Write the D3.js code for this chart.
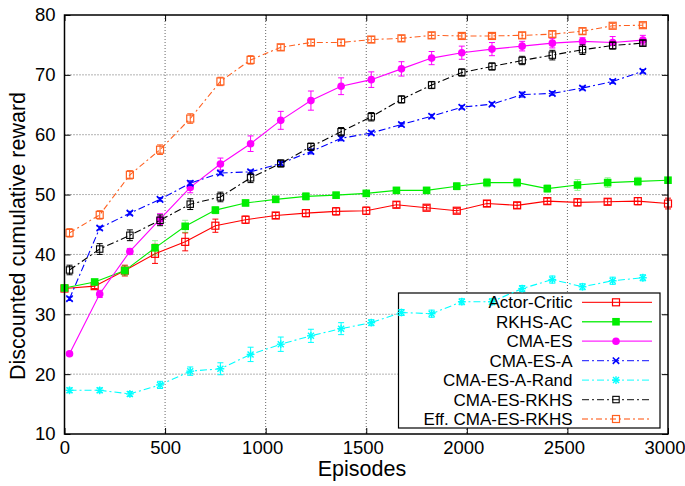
<!DOCTYPE html>
<html><head><meta charset="utf-8">
<script src="https://cdn.jsdelivr.net/npm/d3@7"></script>
<style>body{margin:0;background:#fff}svg{display:block}</style>
</head><body>
<svg id="c" width="685" height="486"></svg>
<script>
// ---------- data ----------
const xTicks = [0, 500, 1000, 1500, 2000, 2500, 3000];
const yTicks = [10, 20, 30, 40, 50, 60, 70, 80];
const epAC = [0,150,300,450,600,750,900,1050,1200,1350,1500,1650,1800,1950,2100,2250,2400,2550,2700,2850,3000];
const epES = [25,175,325,475,625,775,925,1075,1225,1375,1525,1675,1825,1975,2125,2275,2425,2575,2725,2875];

const actorCritic = [34.3,34.7,37.3,40.1,42.1,44.8,45.8,46.5,46.9,47.2,47.3,48.3,47.8,47.3,48.5,48.2,48.9,48.7,48.8,48.9,48.5];
const actorCriticErr = [0.3,0.4,0.9,1.6,1.5,1.1,0.6,0.5,0.6,0.6,0.6,0.5,0.4,0.4,0.5,0.5,0.5,0.6,0.5,0.6,0.9];
const rkhsAC = [34.4,35.4,37.3,41.1,44.7,47.4,48.6,49.2,49.7,49.9,50.2,50.7,50.7,51.4,52.0,52.0,51.0,51.6,52.0,52.2,52.4];
const rkhsACErr = [0.3,0.4,0.8,1.2,1.0,0.6,0.5,0.5,0.6,0.5,0.5,0.5,0.5,0.6,0.7,0.7,0.6,0.9,0.8,0.7,0.4];
const cmaES = [23.4,33.4,40.5,45.9,51.2,55.1,58.5,62.4,65.7,68.1,69.2,71.0,72.8,73.7,74.3,74.8,75.3,75.6,75.4,75.8];
const cmaESErr = [0.3,0.6,0.5,0.9,0.9,1.0,1.3,1.5,1.6,1.4,1.3,1.2,1.1,1.1,1.1,0.8,0.8,0.6,1.0,0.8];
const cmaESA = [32.6,44.4,46.9,49.2,51.9,53.6,53.8,55.2,57.2,59.4,60.3,61.7,63.1,64.6,65.1,66.7,66.9,67.8,68.9,70.6];
const cmaESAErr = [0.3,0.3,0.3,0.3,0.4,0.3,0.3,0.3,0.4,0.4,0.3,0.3,0.3,0.3,0.3,0.4,0.3,0.3,0.3,0.3];
const cmaESARand = [17.3,17.3,16.7,18.2,20.5,20.9,23.3,25.0,26.4,27.6,28.6,30.3,30.1,32.1,32.1,34.3,35.8,34.6,35.6,36.1];
const cmaESARandErr = [0.4,0.4,0.4,0.6,0.7,1.0,1.2,1.2,1.1,1.0,0.5,0.5,0.6,0.5,0.5,0.5,0.6,0.5,0.6,0.5];
const cmaESRKHS = [37.4,40.9,43.2,45.7,48.4,49.6,52.8,55.2,58.0,60.5,63.0,65.9,68.3,70.4,71.4,72.4,73.3,74.2,74.9,75.3];
const cmaESRKHSErr = [0.8,0.9,0.9,0.9,0.9,0.8,0.8,0.6,0.6,0.7,0.7,0.6,0.6,0.6,0.6,0.7,0.8,0.8,0.6,0.5];
const effCmaESRKHS = [43.6,46.6,53.3,57.5,62.7,68.9,72.5,74.6,75.4,75.4,75.9,76.1,76.6,76.5,76.5,76.6,76.8,77.3,78.2,78.3];
const effCmaESRKHSErr = [0.7,0.7,0.7,0.8,0.8,0.7,0.7,0.5,0.5,0.5,0.5,0.5,0.5,0.4,0.4,0.5,0.5,0.5,0.4,0.4];

const seriesNames = ["Actor-Critic","RKHS-AC","CMA-ES","CMA-ES-A","CMA-ES-A-Rand","CMA-ES-RKHS","Eff. CMA-ES-RKHS"];

// ---------- styles ----------
const series = [
  {name:seriesNames[0], x:epAC, y:actorCritic, e:actorCriticErr, color:"#ff0000", dash:null, marker:"sqOpen"},
  {name:seriesNames[1], x:epAC, y:rkhsAC, e:rkhsACErr, color:"#00ee00", dash:null, marker:"sqFill", errOpacity:0.45},
  {name:seriesNames[2], x:epES, y:cmaES, e:cmaESErr, color:"#ff00ff", dash:null, marker:"circle"},
  {name:seriesNames[3], x:epES, y:cmaESA, e:cmaESAErr, color:"#0000ff", dash:"7,3,2,3", marker:"x"},
  {name:seriesNames[4], x:epES, y:cmaESARand, e:cmaESARandErr, color:"#00ffff", dash:"7,3,2,3", marker:"star"},
  {name:seriesNames[5], x:epES, y:cmaESRKHS, e:cmaESRKHSErr, color:"#000000", dash:"7,3,2,3", marker:"sqSmall"},
  {name:seriesNames[6], x:epES, y:effCmaESRKHS, e:effCmaESRKHSErr, color:"#ff6020", dash:"6,3,2,3", marker:"sqOpen"}
];

const FONT = "'Liberation Sans', Arial, Helvetica, sans-serif";
const svg = d3.select("#c");
const L = 64.5, R = 668, T = 15, B = 434;
const x = d3.scaleLinear().domain([0,3000]).range([L,R]);
const y = d3.scaleLinear().domain([10,80]).range([B,T]);

// grid
const grid = svg.append("g").attr("stroke","#666").attr("stroke-width",1).attr("stroke-dasharray","1,2");
xTicks.slice(1,-1).forEach(t=>grid.append("line").attr("x1",x(t)).attr("x2",x(t)).attr("y1",T).attr("y2",B));
yTicks.slice(1,-1).forEach(t=>grid.append("line").attr("x1",L).attr("x2",R).attr("y1",y(t)).attr("y2",y(t)));

// legend box (opaque, under data)
const LX0 = 398.5, LY0 = 293, LX1 = 660, LY1 = 428;
svg.append("rect").attr("x",LX0).attr("y",LY0).attr("width",LX1-LX0).attr("height",LY1-LY0)
  .attr("fill","#fff").attr("stroke","#000").attr("stroke-width",1.2);

// axes with inward ticks
const fmt = d3.format("d");
const axB = d3.axisBottom(x).tickValues(xTicks).tickSize(-6).tickPadding(7).tickFormat(fmt);
const axT = d3.axisTop(x).tickValues(xTicks).tickSize(-6).tickFormat("");
const axLft = d3.axisLeft(y).tickValues(yTicks).tickSize(-6).tickPadding(9).tickFormat(fmt);
const axRt = d3.axisRight(y).tickValues(yTicks).tickSize(-6).tickFormat("");
function styleAxis(g){ g.select(".domain").remove(); g.selectAll("line").attr("stroke","#000");
  g.selectAll("text").attr("font-family",FONT).attr("font-size","18.5px").attr("fill","#000"); }
svg.append("g").attr("transform",`translate(0,${B})`).call(axB).call(styleAxis)
  .selectAll("text").attr("dx",d=>d>=1000?-3.5:0);
svg.append("g").attr("transform",`translate(0,${T})`).call(axT).call(styleAxis);
svg.append("g").attr("transform",`translate(${L},0)`).call(axLft).call(styleAxis);
svg.append("g").attr("transform",`translate(${R},0)`).call(axRt).call(styleAxis);

// markers
function marker(g, type, color, cx, cy){
  const s = 3.5;
  if(type==="sqOpen") g.append("rect").attr("x",cx-s).attr("y",cy-s).attr("width",2*s).attr("height",2*s).attr("fill","none").attr("stroke",color).attr("stroke-width",1.2);
  else if(type==="sqSmall") g.append("rect").attr("x",cx-3.2).attr("y",cy-3.2).attr("width",6.4).attr("height",6.4).attr("fill","none").attr("stroke",color).attr("stroke-width",1.1);
  else if(type==="sqFill") g.append("rect").attr("x",cx-s-0.3).attr("y",cy-s-0.3).attr("width",2*s+0.6).attr("height",2*s+0.6).attr("fill",color);
  else if(type==="circle") g.append("circle").attr("cx",cx).attr("cy",cy).attr("r",3.8).attr("fill",color);
  else if(type==="x"){ [[-1,-1,1,1],[-1,1,1,-1]].forEach(d=>g.append("line").attr("x1",cx+d[0]*3.2).attr("y1",cy+d[1]*3.2).attr("x2",cx+d[2]*3.2).attr("y2",cy+d[3]*3.2).attr("stroke",color).attr("stroke-width",1.6)); }
  else if(type==="star"){ [[-1,-1,1,1],[-1,1,1,-1],[-1.3,0,1.3,0],[0,-1.3,0,1.3]].forEach(d=>g.append("line").attr("x1",cx+d[0]*3).attr("y1",cy+d[1]*3).attr("x2",cx+d[2]*3).attr("y2",cy+d[3]*3).attr("stroke",color).attr("stroke-width",1.4)); }
}

// data
const line = d3.line().x(d=>x(d[0])).y(d=>y(d[1]));
series.forEach(s=>{
  const g = svg.append("g");
  const pts = s.x.map((xv,i)=>[xv,s.y[i],s.e[i]]);
  const eg = g.append("g").attr("stroke",s.color).attr("stroke-width",1).attr("opacity",s.errOpacity||1);
  pts.forEach(p=>{
    const xp = x(p[0]), y1 = y(p[1]+p[2]), y2 = y(p[1]-p[2]);
    eg.append("line").attr("x1",xp).attr("x2",xp).attr("y1",y1).attr("y2",y2);
    eg.append("line").attr("x1",xp-3).attr("x2",xp+3).attr("y1",y1).attr("y2",y1);
    eg.append("line").attr("x1",xp-3).attr("x2",xp+3).attr("y1",y2).attr("y2",y2);
  });
  g.append("path").datum(pts).attr("d",line).attr("fill","none").attr("stroke",s.color)
    .attr("stroke-width",1.1).attr("stroke-dasharray",s.dash);
  pts.forEach(p=>marker(g,s.marker,s.color,x(p[0]),y(p[1])));
});

// legend entries
series.forEach((s,i)=>{
  const yy = 302.3 + i*19.45;
  svg.append("text").attr("x",572.5).attr("y",yy).attr("dy","0.36em").attr("text-anchor","end")
    .attr("font-family",FONT).attr("font-size","17px").attr("fill","#000").text(s.name);
  svg.append("line").attr("x1",582).attr("x2",652).attr("y1",yy).attr("y2",yy).attr("stroke",s.color)
    .attr("stroke-width",1.3).attr("stroke-dasharray",s.dash).attr("opacity",s.dash?0.75:0.85);
  marker(svg,s.marker,s.color,616,yy);
});

// plot border
svg.append("rect").attr("x",L).attr("y",T).attr("width",R-L).attr("height",B-T).attr("fill","none").attr("stroke","#000").attr("stroke-width",1.5);

// axis titles
svg.append("text").attr("x",362).attr("y",476).attr("text-anchor","middle").attr("font-family",FONT)
  .attr("font-size","21.5px").attr("fill","#000").text("Episodes");
svg.append("text").attr("transform","translate(25,236) rotate(-90)").attr("text-anchor","middle").attr("font-family",FONT)
  .attr("font-size","21.5px").attr("fill","#000").text("Discounted cumulative reward");
</script>
</body></html>
